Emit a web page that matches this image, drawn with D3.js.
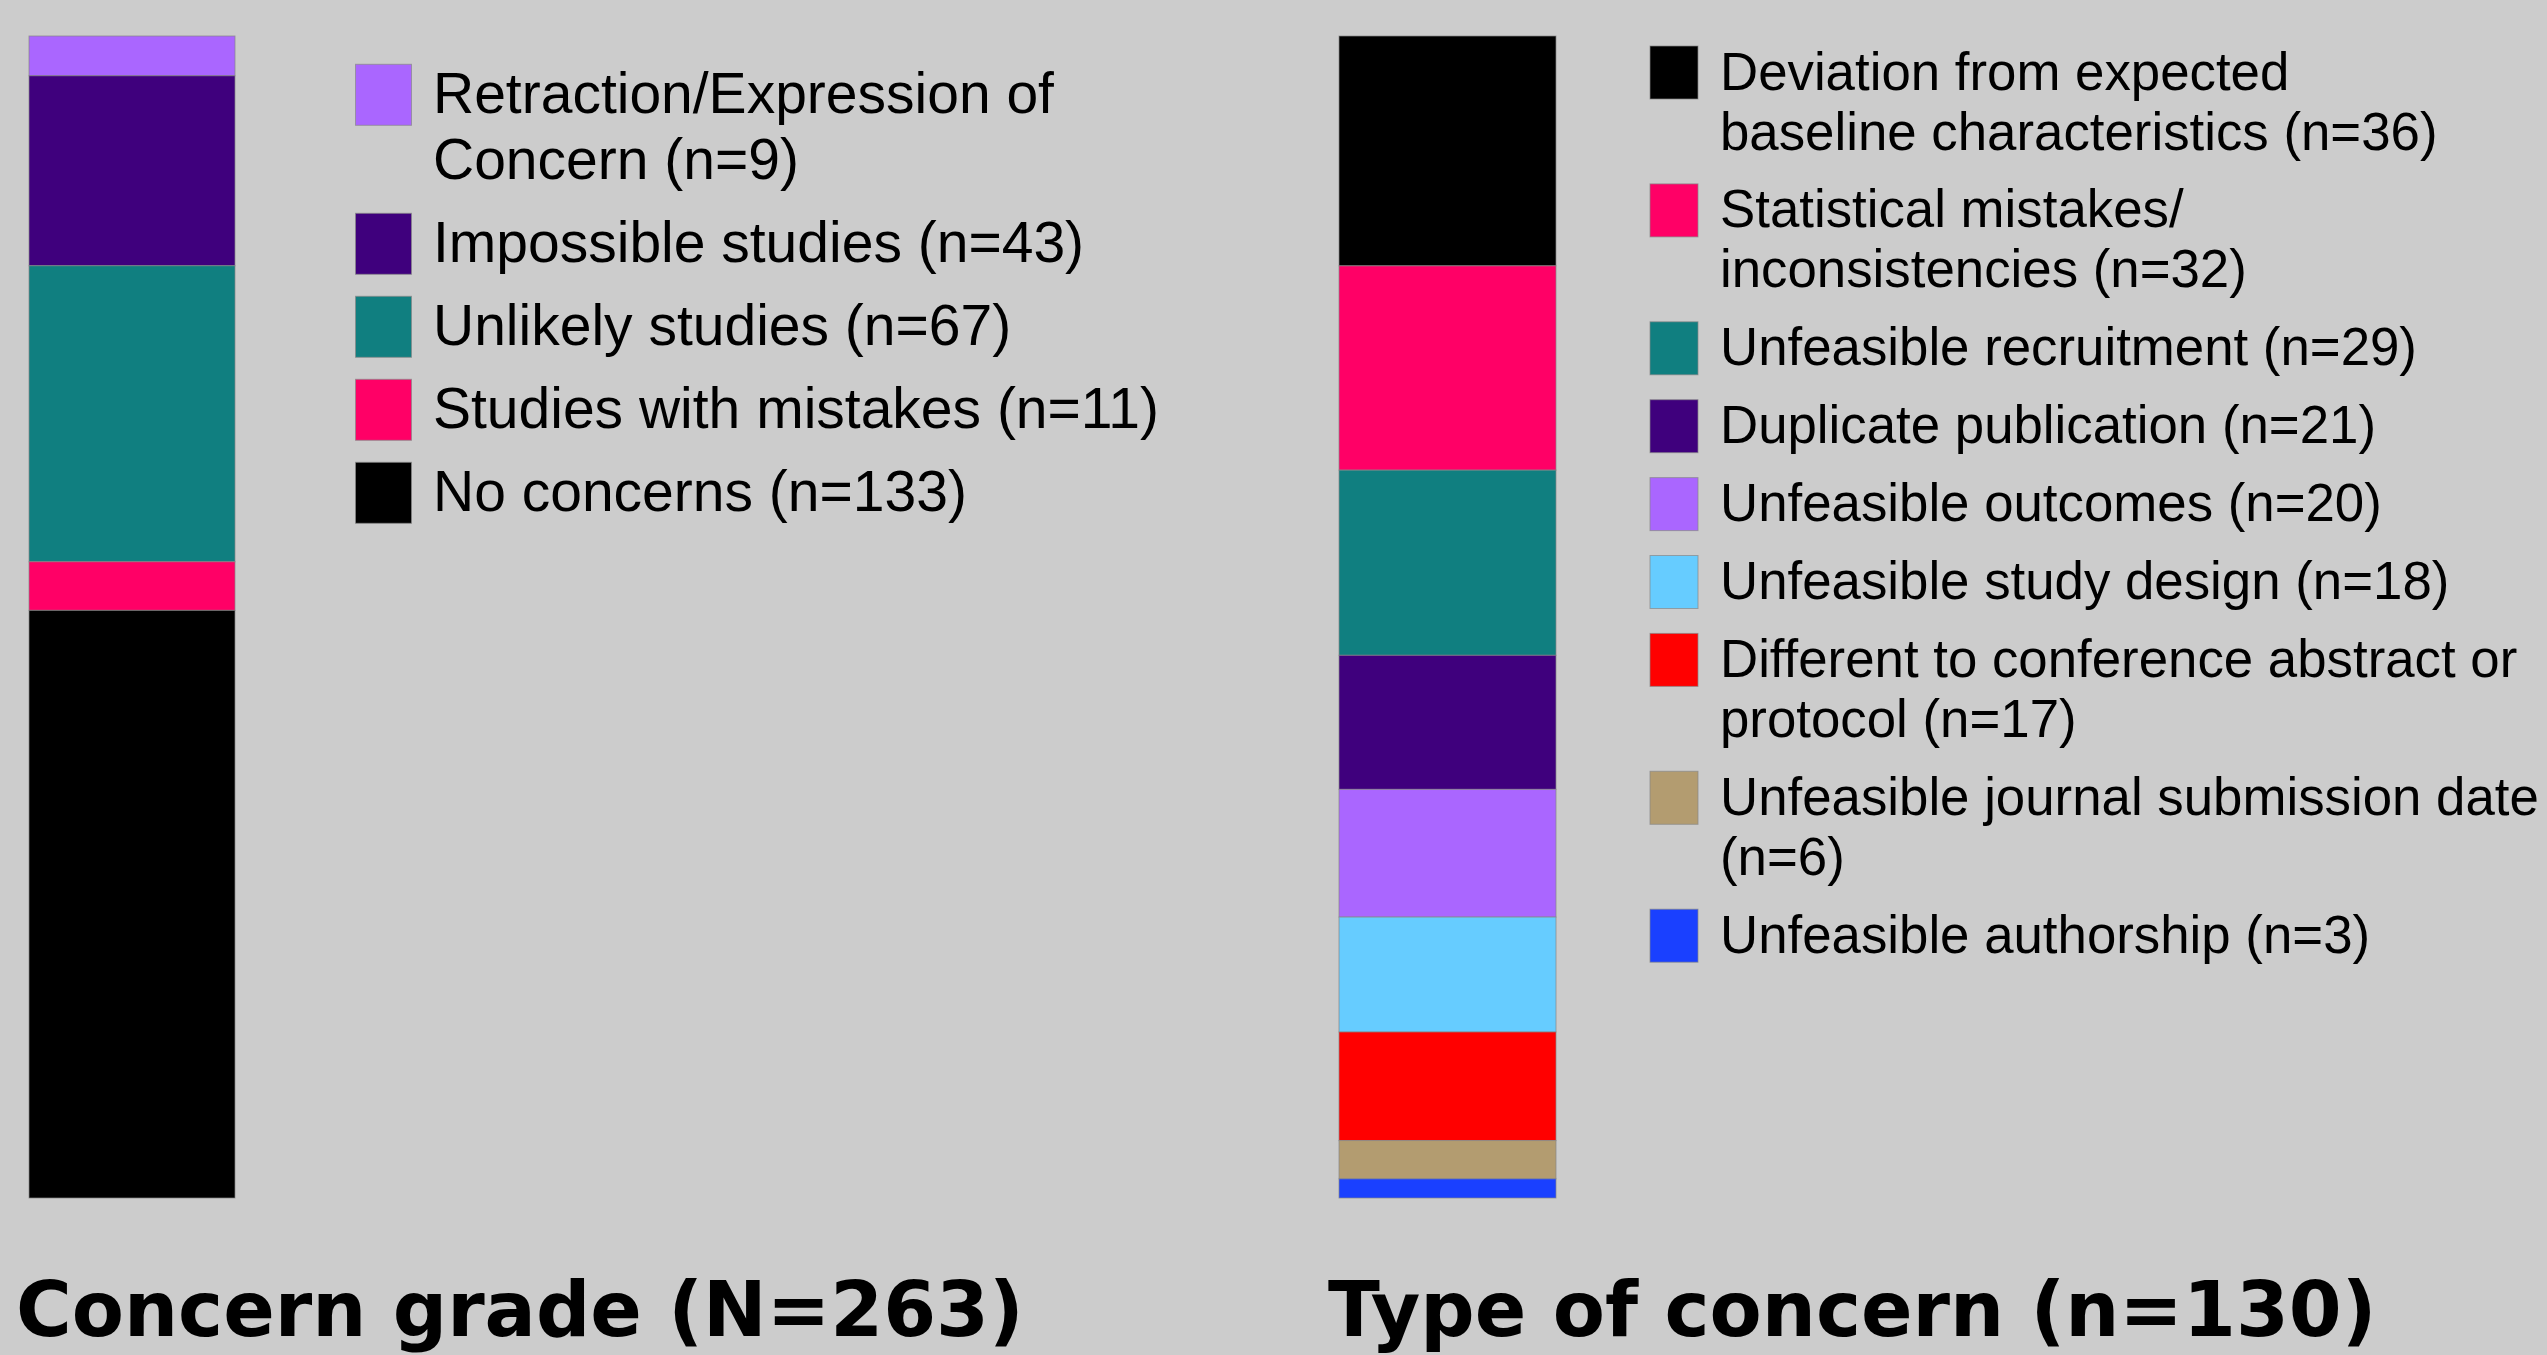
<!DOCTYPE html>
<html>
<head>
<meta charset="utf-8">
<script src="https://cdn.jsdelivr.net/npm/d3@7/dist/d3.min.js"></script>
<style>
  html, body { margin: 0; padding: 0; background: #cccccc; }
  svg { display: block; }
</style>
</head>
<body>
<script>
// ---------------- data ----------------
const gradeLabels = [
  "Retraction/Expression of\nConcern (n=9)",
  "Impossible studies (n=43)",
  "Unlikely studies (n=67)",
  "Studies with mistakes (n=11)",
  "No concerns (n=133)"
];
const gradeValues = [9, 43, 67, 11, 133];
const gradeColors = ["#aa66ff", "#3f007d", "#107f80", "#ff0066", "#000000"];
const gradeTitle = "Concern grade (N=263)";

const typeLabels = [
  "Deviation from expected\nbaseline characteristics (n=36)",
  "Statistical mistakes/\ninconsistencies (n=32)",
  "Unfeasible recruitment (n=29)",
  "Duplicate publication (n=21)",
  "Unfeasible outcomes (n=20)",
  "Unfeasible study design (n=18)",
  "Different to conference abstract or\nprotocol (n=17)",
  "Unfeasible journal submission date\n(n=6)",
  "Unfeasible authorship (n=3)"
];
const typeValues = [36, 32, 29, 21, 20, 18, 17, 6, 3];
const typeColors = ["#000000", "#ff0066", "#107f80", "#3f007d", "#aa66ff",
                    "#66ccff", "#ff0000", "#b39c70", "#1a40ff"];
const typeTitle = "Type of concern (n=130)";

// ---------------- layout ----------------
const W = 2547, H = 1355;
const svg = d3.select("body").append("svg").attr("width", W).attr("height", H);
svg.append("rect").attr("width", W).attr("height", H).attr("fill", "#cccccc");

const barTop = 36, barBottom = 1198;

function panel(cfg) {
  const g = svg.append("g");
  const total = d3.sum(cfg.values);
  const y = d3.scaleLinear().domain([0, total]).range([barTop, barBottom]);
  const x = d3.scaleBand().domain(["bar"]).range([cfg.barX0, cfg.barX1]).padding(0);
  const ends = Array.from(d3.cumsum(cfg.values));
  const segs = cfg.values.map((v, i) => ({ v, i, y0: ends[i] - v, y1: ends[i] }));

  g.selectAll("rect.seg").data(segs).join("rect")
    .attr("class", "seg")
    .attr("x", x("bar"))
    .attr("width", x.bandwidth())
    .attr("y", d => y(d.y0))
    .attr("height", d => y(d.y1) - y(d.y0))
    .attr("fill", d => cfg.colors[d.i])
    .attr("stroke", "#888")
    .attr("stroke-opacity", 0.7)
    .attr("stroke-width", 1);

  // legend
  let top = cfg.legTop;
  cfg.labels.forEach((lab, i) => {
    const lines = lab.split("\n");
    g.append("rect")
      .attr("x", cfg.swX).attr("y", top)
      .attr("width", cfg.swW).attr("height", cfg.swH)
      .attr("fill", cfg.colors[i])
      .attr("stroke", "#888").attr("stroke-opacity", 0.7).attr("stroke-width", 1);
    const t = g.append("text")
      .attr("x", cfg.textX)
      .attr("y", top + cfg.baseOff)
      .attr("font-family", "'Liberation Sans', Arial, sans-serif")
      .attr("font-size", cfg.fs)
      .attr("fill", "#000");
    lines.forEach((ln, k) => {
      t.append("tspan").attr("x", cfg.textX)
        .attr("dy", k === 0 ? 0 : cfg.lh).text(ln);
    });
    top += lines.length * cfg.lh + cfg.gap;
  });

  // title
  g.append("text")
    .attr("x", cfg.titleX).attr("y", 1336)
    .attr("font-family", "'DejaVu Sans', Verdana, sans-serif")
    .attr("font-weight", "bold")
    .attr("font-size", 76)
    .attr("fill", "#000")
    .text(cfg.title);
}

panel({
  values: gradeValues, colors: gradeColors, labels: gradeLabels, title: gradeTitle,
  barX0: 29, barX1: 235,
  legTop: 64.3, swX: 355.5, swW: 56, swH: 61, textX: 433, baseOff: 49,
  fs: 57, lh: 66, gap: 17,
  titleX: 16
});

panel({
  values: typeValues, colors: typeColors, labels: typeLabels, title: typeTitle,
  barX0: 1339, barX1: 1556,
  legTop: 46, swX: 1650, swW: 48, swH: 53, textX: 1720, baseOff: 43.5,
  fs: 52.8, lh: 60, gap: 17.9,
  titleX: 1328
});
</script>
</body>
</html>
